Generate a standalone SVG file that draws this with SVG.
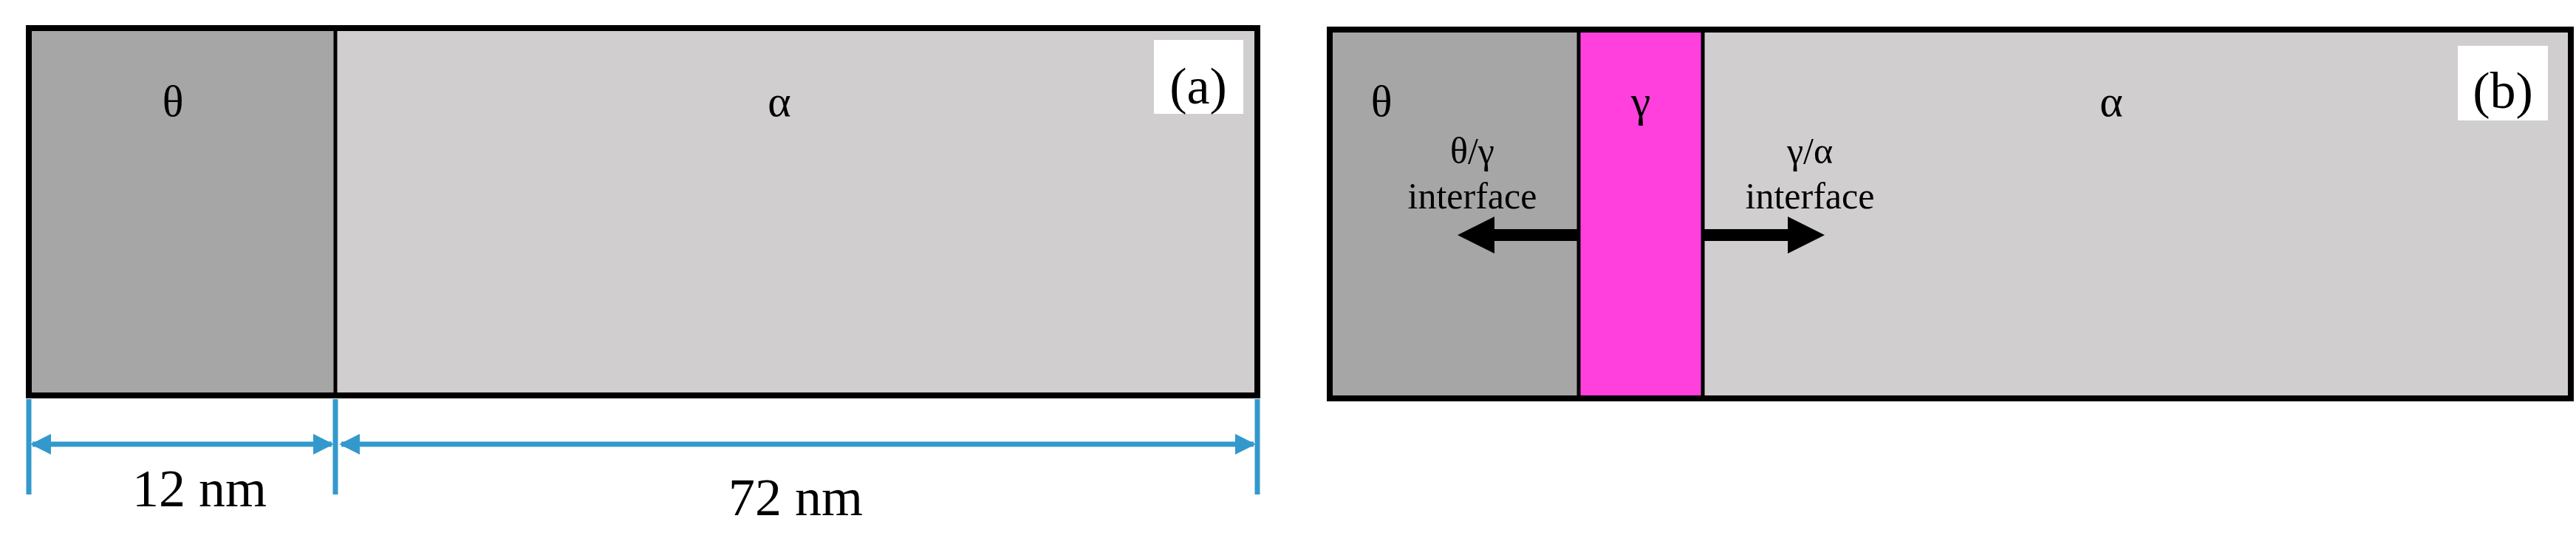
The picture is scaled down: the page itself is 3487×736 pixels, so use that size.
<svg xmlns="http://www.w3.org/2000/svg" width="3487" height="736" viewBox="0 0 3487 736">
<style>
.t{font-family:"Liberation Serif",serif;fill:#000;text-anchor:middle}
.dim{stroke:#3399cc;stroke-width:7;fill:none}
.box{stroke:#000;stroke-width:8}
</style>
<defs>
<marker id="ba" viewBox="0 0 10 10" refX="9" refY="5" markerWidth="4" markerHeight="4" orient="auto-start-reverse" markerUnits="strokeWidth"><path d="M0,0L10,5L0,10z" fill="#3399cc"/></marker>
</defs>
<rect width="3487" height="736" fill="#fff"/>
<g id="panel-a">
<rect x="39" y="38" width="415" height="497" fill="#a6a6a6"/>
<rect x="454" y="38" width="1248" height="497" fill="#d0cecf"/>
<rect x="39" y="38" width="1663" height="497" fill="none" class="box"/>
<line x1="454" y1="38" x2="454" y2="535" stroke="#000" stroke-width="5"/>
<text x="234" y="157" class="t" font-size="60">θ</text>
<text x="1055" y="157" class="t" font-size="60">α</text>
<rect x="1562" y="54" width="121" height="100" fill="#fff"/>
<text x="1622" y="140" class="t" font-size="70">(a)</text>
</g>
<g id="panel-b">
<rect x="1800" y="40" width="337" height="499" fill="#a6a6a6"/>
<rect x="2137" y="40" width="168" height="499" fill="#ff40dd"/>
<rect x="2305" y="40" width="1175" height="499" fill="#d0cecf"/>
<rect x="1800" y="40" width="1680" height="499" fill="none" class="box"/>
<line x1="2137" y1="40" x2="2137" y2="539" stroke="#000" stroke-width="5"/>
<line x1="2305" y1="40" x2="2305" y2="539" stroke="#000" stroke-width="5"/>
<text x="1870" y="157" class="t" font-size="60">θ</text>
<text x="2221" y="157" class="t" font-size="60">γ</text>
<text x="2858" y="157" class="t" font-size="60">α</text>
<rect x="3327" y="62" width="122" height="101" fill="#fff"/>
<text x="3388" y="146" class="t" font-size="70">(b)</text>
<text x="1993" y="221" class="t" font-size="50">θ/γ</text>
<text x="1993" y="282" class="t" font-size="50">interface</text>
<text x="2450" y="221" class="t" font-size="50">γ/α</text>
<text x="2450" y="282" class="t" font-size="50">interface</text>
</g>
<g id="connectors">
<polygon points="2137,310 2023,310 2023,293 1973,318 2023,343 2023,326 2137,326" fill="#000"/>
<polygon points="2305,310 2420,310 2420,293 2470,318 2420,343 2420,326 2305,326" fill="#000"/>
<line x1="39" y1="540" x2="39" y2="669" class="dim" stroke-width="5"/>
<line x1="454" y1="540" x2="454" y2="669" class="dim" stroke-width="5"/>
<line x1="1702" y1="540" x2="1702" y2="669" class="dim" stroke-width="5"/>
<line x1="44" y1="601" x2="449" y2="601" class="dim" marker-start="url(#ba)" marker-end="url(#ba)"/>
<line x1="462" y1="601" x2="1697" y2="601" class="dim" marker-start="url(#ba)" marker-end="url(#ba)"/>
<text x="270" y="685" class="t" font-size="72">12 nm</text>
<text x="1077" y="697" class="t" font-size="72">72 nm</text>
</g>
</svg>
